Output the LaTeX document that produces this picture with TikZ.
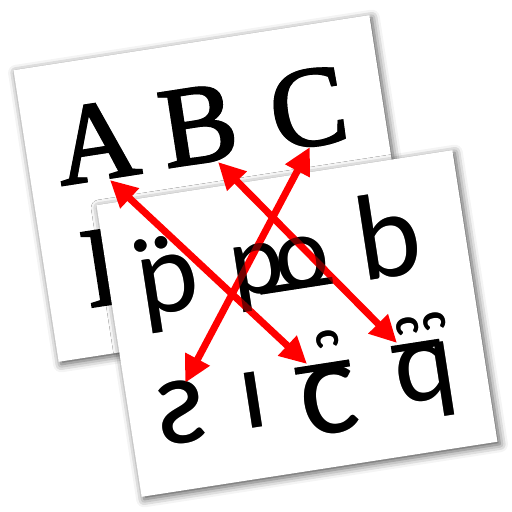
\documentclass[tikz,border=0pt]{standalone}
\usepackage{fontspec}
\newfontfamily\glyphfont{Carlito}
\newfontfamily\abcfont{Liberation Serif}[FakeBold=2]
\usetikzlibrary{arrows.meta,shadows.blur}
\tikzset{
  card/.style={fill=white, rotate=8.8, minimum width=360pt, minimum height=295pt, inner sep=0pt,
    blur shadow={shadow xshift=2.5pt, shadow yshift=-2.5pt, shadow blur radius=8pt, shadow opacity=70}},
  latin/.style={inner sep=0pt, rotate=8.8, anchor=base, font=\abcfont\fontsize{114}{114}\selectfont},
  other/.style={inner sep=0pt, rotate=8.8, anchor=base, font=\glyphfont\fontsize{116}{116}\selectfont},
  hook/.style={inner sep=0pt, rotate=-81.2, anchor=center, font=\glyphfont\bfseries\fontsize{44}{44}\selectfont},
  arr/.style={draw=red, line width=7pt, {Triangle[length=27pt,width=26pt]}-{Triangle[length=27pt,width=26pt]}}
}
\newcommand{\glyphset}[1]{%
  \node[latin] (A#1) at (102,179) {A};
  \node[latin] (B#1) at (204,162) {B};
  \node[latin] (C#1) at (314,145) {C};
  \node[other] (p#1) at (172,312) {\rlap{\kern-0.02em ¨}p};
  \node[other, font=\glyphfont\fontsize{102}{102}\selectfont] (po#1) at (284,290) {p\kern-0.08em o\llap{\rule[-0.01em]{0.72em}{0.065em}}};
  \node[other, font=\glyphfont\fontsize{122}{122}\selectfont] (b#1) at (394,277) {b};
  \node[other, font=\glyphfont\fontsize{128}{128}\selectfont] (s#1) at (185,443) {ƨ};
  \node[other] (i#1) at (258,427) {ı};
  \node[other, font=\glyphfont\fontsize{138}{138}\selectfont] (c#1) at (334,433) {\rlap{\rule[0.46em]{0.4em}{0.05em}}c};
  \node[other] (q#1) at (430,400) {\rlap{\rule[0.45em]{0.42em}{0.06em}}q};
  \node[hook] (hc#1) at (327,339) {c};
  \node[hook] (hqa#1) at (407,326) {c};
  \node[hook] (hqb#1) at (434,321) {c};
}
\begin{document}
\begin{tikzpicture}[x=1pt, y=-1pt]
  \useasboundingbox (0,0) rectangle (512,512);
  \node[card] (back) at (214,188.5) {};
  \node[latin] (D) at (130,301) {D};
  \node[card] (front) at (297,323.5) {};
  \glyphset{}
  \coordinate (tA) at (110,180);
  \coordinate (tC1) at (307,364);
  \coordinate (tB) at (218,162);
  \coordinate (tQ) at (397,343);
  \coordinate (tC) at (310,147);
  \coordinate (tS) at (185,383);
  \draw[arr] (tA) -- (tC1);
  \draw[arr] (tB) -- (tQ);
  \draw[arr] (tC) -- (tS);
  \begin{scope}[opacity=0.55]
    \glyphset{x}
  \end{scope}
\end{tikzpicture}
\end{document}
